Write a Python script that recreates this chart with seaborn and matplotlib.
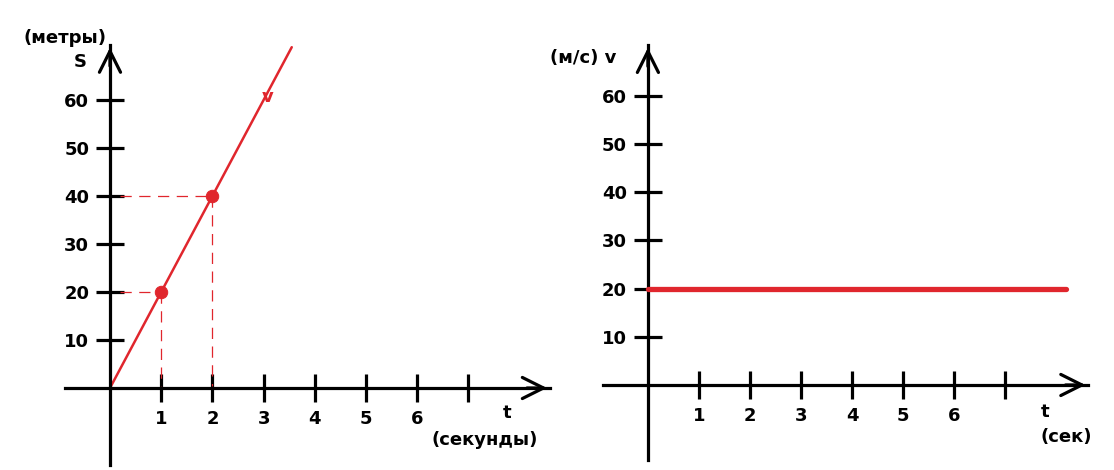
import matplotlib
matplotlib.use('Agg')
import matplotlib.pyplot as plt
import seaborn as sns
import pandas as pd

# Chart values
s_ticks = [10, 20, 30, 40, 50, 60]
v_ticks = [10, 20, 30, 40, 50, 60]
t_ticks = [1, 2, 3, 4, 5, 6, 7]
t_tick_labels = ['1', '2', '3', '4', '5', '6', '']

# distance line s = 20 t
path_t = [0, 3.55]
path_s = [0, 71]
# marked points
mark_t = [1, 2]
mark_s = [20, 40]
# constant speed
speed_t = [0, 8.2]
speed_v = [20, 20]

red = '#e0262d'
black = '#000000'

sns.set_theme(style='white')
plt.rcParams['font.family'] = ['DejaVu Sans']
plt.rcParams['font.weight'] = 'bold'
plt.rcParams['text.color'] = black

fig = plt.figure(figsize=(11.14, 4.7), dpi=100)
W, H = 1114, 470


def make_axes(x0, x1, y0, y1, xlim, ylim):
    ax = fig.add_axes([x0 / W, 1 - y1 / H, (x1 - x0) / W, (y1 - y0) / H])
    ax.set_xlim(*xlim)
    ax.set_ylim(*ylim)
    ax.patch.set_alpha(0)
    return ax


def style_axes(ax, xb, yb, yticks):
    for side in ['top', 'right']:
        ax.spines[side].set_visible(False)
    ax.spines['left'].set_position(('data', 0))
    ax.spines['bottom'].set_position(('data', 0))
    ax.spines['left'].set_bounds(*yb)
    ax.spines['bottom'].set_bounds(*xb)
    for side in ['left', 'bottom']:
        ax.spines[side].set_linewidth(2.3)
        ax.spines[side].set_color(black)
    ax.set_xticks(t_ticks)
    ax.set_xticklabels(t_tick_labels)
    ax.set_yticks(yticks)
    ax.tick_params(axis='both', direction='inout', length=20, width=2.3,
                   colors=black, labelsize=13, bottom=True, left=True)
    ax.tick_params(axis='x', pad=6)
    ax.tick_params(axis='y', pad=5)
    # arrow heads
    ax.annotate('', xy=(xb[1], 0), xytext=(xb[1] - 0.5, 0),
                arrowprops=dict(arrowstyle='->', lw=2.3, color=black,
                                mutation_scale=38))
    ax.annotate('', xy=(0, yb[1]), xytext=(0, yb[1] - 5),
                arrowprops=dict(arrowstyle='->', lw=2.3, color=black,
                                mutation_scale=38))
    ax.set_xlabel('')
    ax.set_ylabel('')


# Left chart: distance vs time
ax1 = make_axes(64, 560, 4, 466, (-0.898, 8.789), (-16.25, 80))
path_df = pd.DataFrame({'t': path_t, 's': path_s})
sns.lineplot(data=path_df, x='t', y='s', color=red, lw=1.8, ax=ax1)
for t, s in zip(mark_t, mark_s):
    ax1.plot([0.2, t], [s, s], color=red, lw=0.9, dashes=(9, 6))
    ax1.plot([t, t], [s, 0.5], color=red, lw=0.9, dashes=(9, 6))
mark_df = pd.DataFrame({'t': mark_t, 's': mark_s})
sns.scatterplot(data=mark_df, x='t', y='s', color=red, s=80,
                edgecolor=red, ax=ax1, zorder=5)
style_axes(ax1, (-0.88, 8.59), (-16, 71.5), s_ticks)
ax1.text(-0.88, 72.9, '(метры)', ha='center', va='center', fontsize=13)
ax1.text(-0.59, 68.0, 'S', ha='center', va='center', fontsize=13)
ax1.text(3.07, 60.6, 'v', ha='center', va='center', fontsize=13, color=red)
ax1.text(7.75, -5.2, 't', ha='center', va='center', fontsize=13)
ax1.text(7.32, -10.8, '(секунды)', ha='center', va='center', fontsize=13)

# Right chart: speed vs time
ax2 = make_axes(603, 1100, 4, 466, (-0.88, 8.86), (-16.8, 79))
speed_df = pd.DataFrame({'t': speed_t, 'v': speed_v})
sns.lineplot(data=speed_df, x='t', y='v', color=red, lw=3.8, ax=ax2,
             solid_capstyle='round', zorder=4)
style_axes(ax2, (-0.88, 8.63), (-15.6, 70.5), v_ticks)
ax2.text(-1.27, 67.8, '(м/с) v', ha='center', va='center', fontsize=13,
         clip_on=False)
ax2.text(7.78, -5.6, 't', ha='center', va='center', fontsize=13)
ax2.text(8.2, -10.8, '(сек)', ha='center', va='center', fontsize=13)

fig.savefig('out.png', dpi=100)
